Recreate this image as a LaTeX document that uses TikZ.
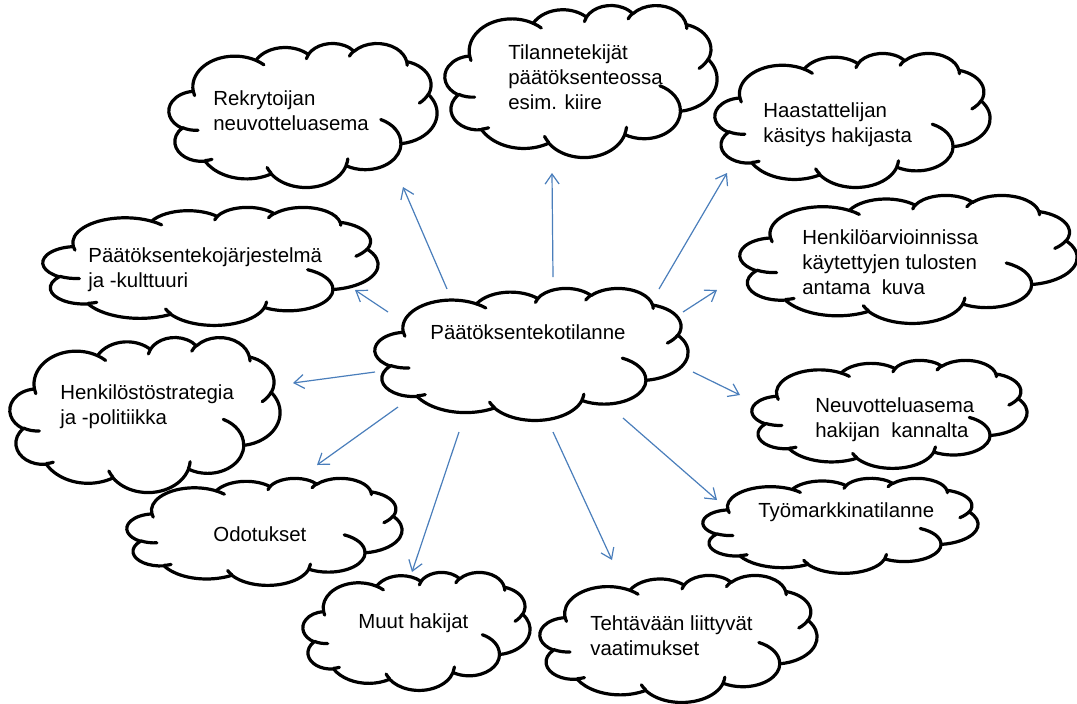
\documentclass[tikz,border=0pt]{standalone}
\usepackage{fontspec}
\setmainfont{Liberation Sans}
\usetikzlibrary{arrows.meta}
\definecolor{arrowblue}{HTML}{4A7EBB}
\newcommand\wcpar[3]{(atan2((#1)*sin(#3),(#2)*cos(#3))+360*round(((#3)-atan2((#1)*sin(#3),(#2)*cos(#3)))/360))}
\newcommand\wcarc[4]{arc[x radius=#1, y radius=#2, start angle={\wcpar{#1}{#2}{#3}}, end angle={\wcpar{#1}{#2}{(#3)+(#4)}}]}
\newcommand\wordcloud[4]{%
\begin{scope}[shift={(#1,#2)}, xscale={((#3)-(#1))/43.2}, yscale={((#4)-(#2))/43.2}]
\draw[cloudline, fill=white] (3.9,14.37)
 \wcarc{6.753}{9.190}{-190.4875}{123.7805}
 \wcarc{5.333}{7.267}{-144.1024}{89.9452}
 \wcarc{4.365}{5.945}{-145.8079}{99.7230}
 \wcarc{4.857}{6.595}{-130.9861}{117.2417}
 \wcarc{5.333}{7.273}{-78.7089}{109.0269}
 \wcarc{6.775}{9.220}{-46.2673}{130.2690}
 \wcarc{5.785}{7.867}{0.6250}{114.0333}
 \wcarc{6.752}{9.215}{22.4516}{115.1726}
 \wcarc{7.720}{10.543}{66.2426}{75.7110}
 \wcarc{4.360}{5.918}{-274.9421}{146.7356}
 \wcarc{4.345}{5.945}{-246.8285}{152.5189}
 -- cycle;
\draw[cloudline]
 (4.693,26.177) \wcarc{4.345}{5.945}{86.7420}{26.4295}
 (6.928,34.899) \wcarc{4.360}{5.918}{73.6105}{11.4475}
 (16.478,39.090) \wcarc{6.752}{9.215}{137.6242}{14.0811}
 (28.827,34.751) \wcarc{6.752}{9.215}{6.4533}{15.9984}
 (34.129,22.954) \wcarc{5.785}{7.867}{-70.2924}{70.9174}
 (41.798,15.354) \wcarc{5.333}{7.273}{30.3180}{27.7515}
 (38.324,5.426) \wcarc{4.857}{6.595}{-13.7443}{14.8589}
 (29.078,3.952) \wcarc{4.857}{6.595}{-149.1815}{18.1954}
 (22.141,4.720) \wcarc{4.365}{5.945}{-163.4943}{17.6864}
 (14.000,5.192) \wcarc{6.753}{9.190}{-66.7070}{12.3194}
 (4.127,15.789) \wcarc{6.753}{9.190}{157.6544}{11.8582};
\end{scope}}
\newcommand\lines[1]{\begin{tabular}[t]{@{}l@{}}#1\end{tabular}}
\tikzset{
  cloudline/.style={draw=black, line width=1.6pt, line join=round, line cap=round},
  cloudtext/.style={inner sep=0pt, anchor=base west, font=\fontsize{10.2pt}{12.5pt}\selectfont},
  link/.style={draw=arrowblue, line width=0.6pt, -{Straight Barb[length=5pt,width=7pt]}}
}
\begin{document}
\begin{tikzpicture}[x=0.5pt, y=-0.5pt]
\useasboundingbox (0,0) rectangle (1077,703);
% clouds
\wordcloud{375}{288}{688}{420}
\wordcloud{169}{43}{437}{187}
\wordcloud{445}{5}{717}{157}
\wordcloud{715}{53}{990}{187}
\wordcloud{740}{195}{1077}{323}
\wordcloud{43}{207}{378}{325}
\wordcloud{10}{337}{280}{492}
\wordcloud{752}{360}{1027}{468}
\wordcloud{127}{478}{402}{585}
\wordcloud{703}{478}{978}{573}
\wordcloud{303}{572}{530}{690}
\wordcloud{540}{575}{817}{702}
% texts
\node[cloudtext] (c) at (430,339) {Päätöksentekotilanne};
\node[cloudtext] (rek) at (213,105) {\lines{Rekrytoijan\\neuvotteluasema}};
\node[cloudtext] (til) at (508,59) {\lines{Tilannetekijät\\päätöksenteossa\\esim. kiire}};
\node[cloudtext] (haa) at (763,117) {\lines{Haastattelijan\\käsitys hakijasta}};
\node[cloudtext] (hen) at (802,244) {\lines{Henkilöarvioinnissa\\käytettyjen tulosten\\antama\ \ kuva}};
\node[cloudtext] (paa) at (88,262) {\lines{Päätöksentekojärjestelmä\\ja -kulttuuri}};
\node[cloudtext] (str) at (60,399) {\lines{Henkilöstöstrategia\\ja -politiikka}};
\node[cloudtext] (neu) at (815,412) {\lines{Neuvotteluasema\\hakijan\ \ kannalta}};
\node[cloudtext] (odo) at (213,541) {Odotukset};
\node[cloudtext] (tyo) at (758,517) {Työmarkkinatilanne};
\node[cloudtext] (muu) at (358,628) {Muut hakijat};
\node[cloudtext] (teh) at (590,630) {\lines{Tehtävään liittyvät\\vaatimukset}};
% arrow ends
\coordinate (s1) at (447,289); \coordinate (e1) at (403,187);
\coordinate (s2) at (553,277); \coordinate (e2) at (552,173);
\coordinate (s3) at (659,289); \coordinate (e3) at (727,173);
\coordinate (s4) at (683,312); \coordinate (e4) at (717,290);
\coordinate (s5) at (388,312); \coordinate (e5) at (355,290);
\coordinate (s6) at (375,372); \coordinate (e6) at (293,383);
\coordinate (s7) at (693,372); \coordinate (e7) at (740,395);
\coordinate (s8) at (398,407); \coordinate (e8) at (317,465);
\coordinate (s9) at (459,432); \coordinate (e9) at (412,572);
\coordinate (s10) at (553,432); \coordinate (e10) at (612,560);
\coordinate (s11) at (623,418); \coordinate (e11) at (717,500);
\foreach \i in {1,...,11} { \draw[link] (s\i) -- (e\i); }
\end{tikzpicture}
\end{document}
